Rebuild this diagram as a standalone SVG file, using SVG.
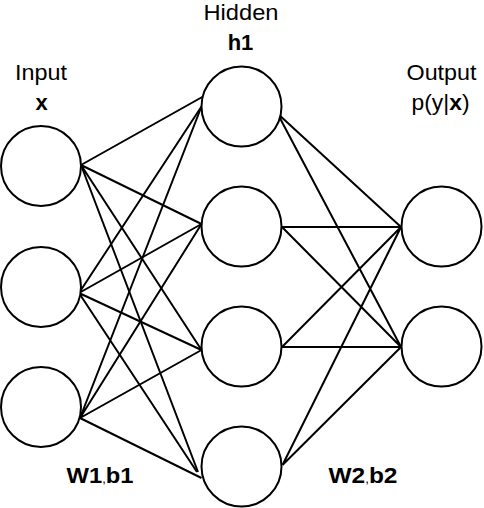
<svg xmlns="http://www.w3.org/2000/svg" width="484" height="508" viewBox="0 0 484 508">
<style>
.node{fill:#fff;stroke:#000;stroke-width:2}
.edge{stroke:#000;stroke-width:2;fill:none}
.lbl{font-family:"Liberation Sans",Arial,sans-serif;font-size:22px;fill:#000;text-anchor:middle}
.b{font-weight:bold}
</style>
<rect width="484" height="508" fill="#fff"/>
<g id="connectors">
<path class="edge" d="M81,165L204,96M81,165L201.5,224M81,165L201.5,350M81,165L198,472"/>
<path class="edge" d="M79,293L201.5,106.5M79,293L201.5,224M79,293L201.5,350M79,293L197,472"/>
<path class="edge" d="M80,418L201.5,106.5M80,418L201.5,224M80,418L201.5,350M80,418L201.5,478"/>
<path class="edge" d="M277.5,113.5L401,227M277.5,113.5L401,347M282,227L401,227M282,227L401,347M282,347L401,227M282,347L401,347M282.5,465L401,227M282.5,465L401,347"/>
</g>
<g id="in1"><circle class="node" cx="41" cy="166" r="40"/></g>
<g id="in2"><circle class="node" cx="41" cy="287" r="40"/></g>
<g id="in3"><circle class="node" cx="41" cy="407" r="40"/></g>
<g id="h1n"><circle class="node" cx="241.5" cy="106.5" r="40"/></g>
<g id="h2n"><circle class="node" cx="241.5" cy="226.5" r="40"/></g>
<g id="h3n"><circle class="node" cx="241.5" cy="346.5" r="40"/></g>
<g id="h4n"><circle class="node" cx="241.5" cy="466.5" r="40"/></g>
<g id="o1"><circle class="node" cx="441.5" cy="226.5" r="40"/></g>
<g id="o2"><circle class="node" cx="441.5" cy="346.5" r="40"/></g>
<g id="labels">
<text class="lbl" x="41" y="80" textLength="52" lengthAdjust="spacingAndGlyphs">Input</text>
<text class="lbl b" x="41.5" y="110">x</text>
<text class="lbl" x="241" y="20" textLength="75" lengthAdjust="spacingAndGlyphs">Hidden</text>
<text class="lbl b" x="240.5" y="50">h1</text>
<text class="lbl" x="441.5" y="80" textLength="70" lengthAdjust="spacingAndGlyphs">Output</text>
<text class="lbl" x="440.5" y="110" textLength="58" lengthAdjust="spacingAndGlyphs">p(y|<tspan class="b">x</tspan>)</text>
<text class="lbl" x="100" y="483" textLength="67" lengthAdjust="spacingAndGlyphs"><tspan class="b">W1</tspan><tspan font-size="12">,</tspan><tspan class="b">b1</tspan></text>
<text class="lbl" x="363" y="483" textLength="69" lengthAdjust="spacingAndGlyphs"><tspan class="b">W2</tspan><tspan font-size="12">,</tspan><tspan class="b">b2</tspan></text>
</g>
</svg>
